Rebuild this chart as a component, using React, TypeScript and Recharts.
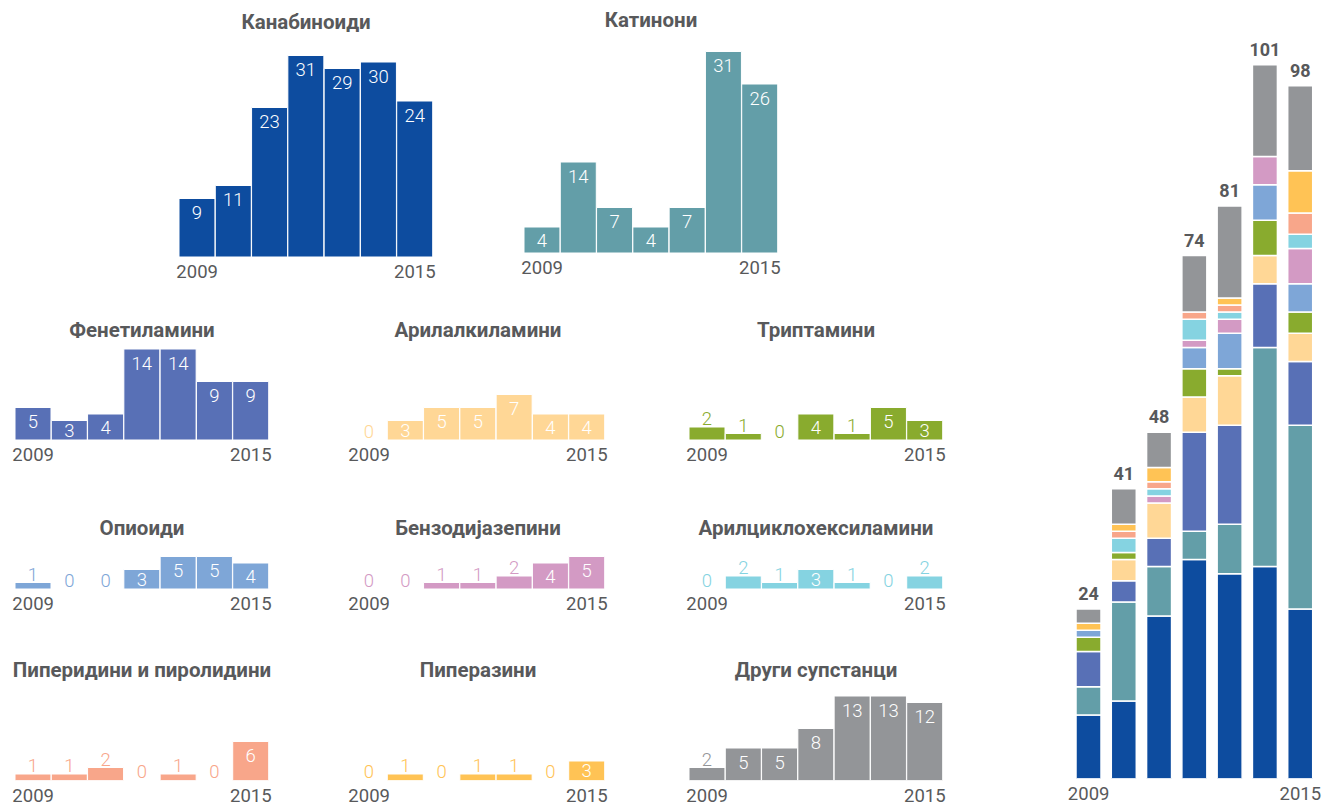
import React from 'react';
import { BarChart, Bar, XAxis, YAxis, LabelList } from 'recharts';

const years = ['2009', '2010', '2011', '2012', '2013', '2014', '2015'];

const kanabinoidi = [9, 11, 23, 31, 29, 30, 24];
const katinoni = [4, 14, 7, 4, 7, 31, 26];
const fenetilamini = [5, 3, 4, 14, 14, 9, 9];
const arilalkilamini = [0, 3, 5, 5, 7, 4, 4];
const triptamini = [2, 1, 0, 4, 1, 5, 3];
const opioidi = [1, 0, 0, 3, 5, 5, 4];
const benzodijazepini = [0, 0, 1, 1, 2, 4, 5];
const arilciklo = [0, 2, 1, 3, 1, 0, 2];
const piperidini = [1, 1, 2, 0, 1, 0, 6];
const piperazini = [0, 1, 0, 1, 1, 0, 3];
const drugi = [2, 5, 5, 8, 13, 13, 12];

// stacked chart (right) as drawn in the reference
const piperaziniStack = [0, 1, 1, 1, 1, 0, 3];
const totalLabels = [24, 41, 48, 74, 81, 101, 98];

const titles = {
  kanabinoidi: 'Канабиноиди',
  katinoni: 'Катинони',
  fenetilamini: 'Фенетиламини',
  arilalkilamini: 'Арилалкиламини',
  triptamini: 'Триптамини',
  opioidi: 'Опиоиди',
  benzodijazepini: 'Бензодијазепини',
  arilciklo: 'Арилциклохексиламини',
  piperidini: 'Пиперидини и пиролидини',
  piperazini: 'Пиперазини',
  drugi: 'Други супстанци',
};

const colors = {
  kanabinoidi: '#0d4c9f',
  katinoni: '#639ea8',
  fenetilamini: '#5870b6',
  arilalkilamini: '#ffd796',
  triptamini: '#89ab2e',
  opioidi: '#7ea6d7',
  benzodijazepini: '#d39ac4',
  arilciklo: '#85d3e1',
  piperidini: '#f8a68a',
  piperazini: '#ffc355',
  drugi: '#939598',
};

const seriesValues = {
  kanabinoidi, katinoni, fenetilamini, arilalkilamini, triptamini, opioidi,
  benzodijazepini, arilciklo, piperidini, piperazini, drugi,
};

const stackSeries = [
  { key: 'kanabinoidi', values: kanabinoidi, color: colors.kanabinoidi },
  { key: 'katinoni', values: katinoni, color: colors.katinoni },
  { key: 'fenetilamini', values: fenetilamini, color: colors.fenetilamini },
  { key: 'arilalkilamini', values: arilalkilamini, color: colors.arilalkilamini },
  { key: 'triptamini', values: triptamini, color: colors.triptamini },
  { key: 'opioidi', values: opioidi, color: colors.opioidi },
  { key: 'benzodijazepini', values: benzodijazepini, color: colors.benzodijazepini },
  { key: 'arilciklo', values: arilciklo, color: colors.arilciklo },
  { key: 'piperazini', values: piperaziniStack, color: colors.piperidini },
  { key: 'piperidini', values: piperidini, color: colors.piperazini },
  { key: 'drugi', values: drugi, color: colors.drugi },
];

const FONT = 'Roboto, "Open Sans", sans-serif';
const TEXT = '#58595b';
const UNIT = 6.5;
const PAD = 30;

const panels = [
  { key: 'kanabinoidi', left: 179, baseline: 257, units: 34, titleY: 22 },
  { key: 'katinoni', left: 524, baseline: 253, units: 34, titleY: 20 },
  { key: 'fenetilamini', left: 15, baseline: 440, units: 16, titleY: 330 },
  { key: 'arilalkilamini', left: 351, baseline: 440, units: 16, titleY: 330 },
  { key: 'triptamini', left: 689, baseline: 440, units: 16, titleY: 330 },
  { key: 'opioidi', left: 15, baseline: 589, units: 8, titleY: 528 },
  { key: 'benzodijazepini', left: 351, baseline: 589, units: 8, titleY: 528 },
  { key: 'arilciklo', left: 689, baseline: 589, units: 8, titleY: 528 },
  { key: 'piperidini', left: 15, baseline: 780, units: 15, titleY: 670 },
  { key: 'piperazini', left: 351, baseline: 780, units: 15, titleY: 670 },
  { key: 'drugi', left: 689, baseline: 780, units: 15, titleY: 670 },
];

const endTick = (v: string) => (v === '2009' || v === '2015' ? v : '');
const zeroMin = (v: any) => (Number(v) === 0 ? 0.01 : 0);

const makeLabel = (color: string) => (p: any) => {
  const { x, y, width, height, value } = p;
  const cx = Number(x) + Number(width) / 2;
  const h = Math.abs(Number(height));
  const top = Number(y) + (Number(height) < 0 ? Number(height) : 0);
  if (value >= 3) {
    return (
      <text x={cx} y={top + Math.min(14, h / 2)} dy="0.36em" textAnchor="middle" fill="#fff" fontSize={18.5} fontWeight={300} fontFamily={FONT}>
        {value}
      </text>
    );
  }
  return (
    <text x={cx} y={top - 2} textAnchor="middle" fill={color} fontSize={18.5} fontWeight={300} fontFamily={FONT}>
      {value}
    </text>
  );
};

function SmallPanel({ pk, left, baseline, units, titleY }: any) {
  const values = (seriesValues as any)[pk] as number[];
  const color = (colors as any)[pk] as string;
  const title = (titles as any)[pk] as string;
  const data = years.map((y, i) => ({ year: y, v: values[i] }));
  const plotH = units * UNIT;
  const axisH = 30;
  return (
    <>
      <div
        style={{
          position: 'absolute', left: left - 80, width: 254 + 160, top: titleY - 12,
          textAlign: 'center', fontFamily: FONT, fontWeight: 700, fontSize: 20.5, lineHeight: '24px', color: TEXT,
        }}
      >
        {title}
      </div>
      <div style={{ position: 'absolute', left: left - PAD, top: baseline - plotH }}>
        <BarChart width={254 + 2 * PAD} height={plotH + axisH} data={data} margin={{ top: 0, right: PAD, bottom: 0, left: PAD }} barCategoryGap={0}>
          <XAxis
            dataKey="year" interval={0} tickLine={false} axisLine={false} height={axisH}
            tick={{ fill: TEXT, fontSize: 18.5, fontFamily: FONT }} tickFormatter={endTick}
          />
          <YAxis hide domain={[0, units]} allowDataOverflow />
          <Bar dataKey="v" fill={color} stroke="#fff" strokeWidth={1} minPointSize={zeroMin} isAnimationActive={false}>
            <LabelList dataKey="v" content={makeLabel(color)} />
          </Bar>
        </BarChart>
      </div>
    </>
  );
}

const stackData = years.map((y, i) => {
  const row: any = { year: y, total: totalLabels[i] };
  stackSeries.forEach((s) => { row[s.key] = s.values[i]; });
  return row;
});

const totalLabel = (p: any) => {
  const { x, y, width, index } = p;
  return (
    <text x={Number(x) + Number(width) / 2} y={Number(y) - 9} textAnchor="middle" fill={TEXT} fontSize={18} fontWeight={700} fontFamily={FONT}>
      {totalLabels[index]}
    </text>
  );
};

function StackedChart() {
  const units = 110;
  const unitPx = 7.07;
  const plotH = units * unitPx;
  const axisH = 26;
  return (
    <div style={{ position: 'absolute', left: 1071 - PAD, top: 779 - plotH }}>
      <BarChart width={247 + 2 * PAD} height={plotH + axisH} data={stackData} margin={{ top: 0, right: PAD, bottom: 0, left: PAD }} barSize={25}>
        <XAxis
          dataKey="year" interval={0} tickLine={false} axisLine={false} height={axisH}
          tick={{ fill: TEXT, fontSize: 18.5, fontFamily: FONT }} tickFormatter={endTick}
        />
        <YAxis hide domain={[0, units]} allowDataOverflow />
        {stackSeries.map((s, idx) => (
          <Bar key={s.key} dataKey={s.key} stackId="a" fill={s.color} stroke="#fff" strokeWidth={1.5} isAnimationActive={false}>
            {idx === stackSeries.length - 1 ? <LabelList dataKey="total" content={totalLabel} /> : null}
          </Bar>
        ))}
      </BarChart>
    </div>
  );
}

export default function App() {
  return (
    <div style={{ position: 'absolute', left: 0, top: 0, width: 1331, height: 805, background: '#fff', fontFamily: FONT, overflow: 'hidden' }}>
      {panels.map((p) => (
        <SmallPanel key={p.key} pk={p.key} left={p.left} baseline={p.baseline} units={p.units} titleY={p.titleY} />
      ))}
      <StackedChart />
    </div>
  );
}
